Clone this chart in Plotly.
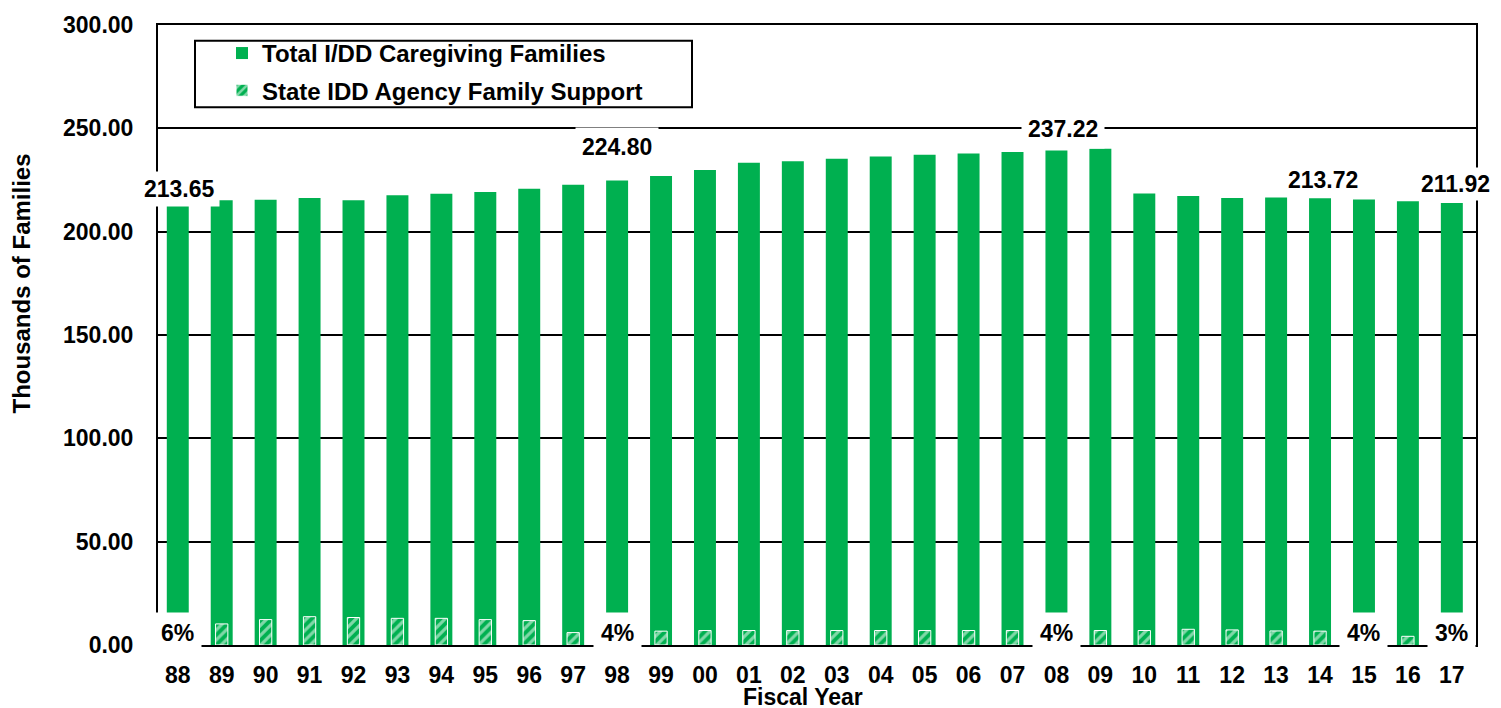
import plotly.graph_objects as go

# ---------------- data ----------------
years = ["88", "89", "90", "91", "92", "93", "94", "95", "96", "97", "98", "99",
         "00", "01", "02", "03", "04", "05", "06", "07", "08", "09",
         "10", "11", "12", "13", "14", "15", "16", "17"]

total_families = [215.0, 215.2, 215.5, 216.3, 215.2, 217.6, 218.4, 219.2, 220.8, 222.7, 224.8, 226.9,
                  229.8, 233.3, 234.1, 235.3, 236.4, 237.2, 237.8, 238.5, 239.3, 240.1,
                  218.5, 217.2, 216.3, 216.5, 216.2, 215.6, 214.7, 213.9]

family_support = [12.9, 10.2, 12.3, 13.7, 13.3, 12.9, 12.9, 12.3, 11.8, 6.0, 9.0, 6.7,
                  7.0, 7.0, 7.0, 7.0, 7.0, 7.0, 7.0, 7.0, 9.5, 7.0,
                  7.0, 7.6, 7.3, 6.8, 6.7, 8.6, 4.2, 6.4]

top_label_years = ["88", "98", "08", "14", "17"]
top_label_text = ["213.65", "224.80", "237.22", "213.72", "211.92"]

pct_label_years = ["88", "98", "08", "15", "17"]
pct_label_text = ["6%", "4%", "4%", "4%", "3%"]

y_ticks = [0, 50, 100, 150, 200, 250, 300]

# ---------------- style ----------------
GREEN = "#00B050"
FONT = "Liberation Sans, Arial, sans-serif"
W, H = 1501, 708
L, R, T, B = 158, 25, 19, 63
PW, PH = W - L - R, H - T - B


def px_to_paper_y(py):
    return (H - B - py) / PH


def px_to_paper_x(px):
    return (px - L) / PW


fig = go.Figure()
fig.add_trace(go.Bar(
    x=years, y=total_families, name="Total I/DD Caregiving Families",
    marker=dict(color=GREEN, line=dict(width=0)), width=0.5,
    legendgroup="a", hoverinfo="x+y",
))
fig.add_trace(go.Bar(
    x=years, y=family_support, name="State IDD Agency Family Support",
    marker=dict(color=GREEN, line=dict(color="white", width=1),
                pattern=dict(shape="/", fgcolor="white", size=7, solidity=0.45)),
    width=0.28, legendgroup="b", hoverinfo="x+y",
))

annotations = []
# top value labels (positions in pixels of the reference layout)
top_pos_py = [185, 142, 124, 176, 180]
top_shift_px = [2, 0, 7, 3, 4]
top_pad = [4, 6, 6, 3, 3]
for yr, txt, py, sx, pd in zip(top_label_years, top_label_text, top_pos_py, top_shift_px, top_pad):
    annotations.append(dict(
        x=years.index(yr), xref="x", y=px_to_paper_y(py), yref="paper", text=txt, showarrow=False,
        xshift=sx, font=dict(family=FONT, size=23, color="black", weight="bold"),
        bgcolor="white", borderpad=pd, xanchor="center", yanchor="middle",
    ))
# bottom percentage labels
for yr, txt in zip(pct_label_years, pct_label_text):
    annotations.append(dict(
        x=years.index(yr), xref="x", y=px_to_paper_y(633), yref="paper", text=txt, showarrow=False,
        font=dict(family=FONT, size=23, color="black", weight="bold"),
        bgcolor="white", borderpad=7, xanchor="center", yanchor="middle",
    ))
# axis titles
annotations.append(dict(
    x=px_to_paper_x(21), xref="paper", y=px_to_paper_y(280), yref="paper",
    text="Thousands of Families", textangle=-90, showarrow=False,
    font=dict(family=FONT, size=24, color="black", weight="bold"),
    xanchor="center", yanchor="middle",
))
annotations.append(dict(
    x=px_to_paper_x(803), xref="paper", y=px_to_paper_y(697), yref="paper",
    text="Fiscal Year", showarrow=False,
    font=dict(family=FONT, size=23, color="black", weight="bold"),
    xanchor="center", yanchor="middle",
))

shapes = [dict(
    type="rect", xref="paper", yref="paper",
    x0=px_to_paper_x(195), x1=px_to_paper_x(692),
    y0=px_to_paper_y(102), y1=px_to_paper_y(35),
    line=dict(color="black", width=2), fillcolor="rgba(0,0,0,0)", layer="above",
)]

fig.update_layout(
    width=W, height=H,
    margin=dict(l=L, r=R, t=T, b=B, pad=0),
    paper_bgcolor="white", plot_bgcolor="white",
    barmode="overlay",
    font=dict(family=FONT, size=23, color="black", weight="bold"),
    showlegend=True,
    legend=dict(
        x=px_to_paper_x(222), xanchor="left",
        y=px_to_paper_y(25), yanchor="top",
        bgcolor="rgba(0,0,0,0)", borderwidth=0,
        font=dict(family=FONT, size=24, color="black", weight="bold"),
        traceorder="grouped", tracegroupgap=3,
    ),
    annotations=annotations,
    shapes=shapes,
    xaxis=dict(
        type="category", range=[-0.45, 29.55],
        showline=True, linecolor="black", linewidth=2, mirror=True,
        showgrid=False, ticks="outside", ticklen=8, tickcolor="rgba(0,0,0,0)",
        tickfont=dict(family=FONT, size=23, color="black", weight="bold"),
        layer="above traces",
    ),
    yaxis=dict(
        range=[0, 300], tickmode="array", tickvals=y_ticks,
        tickformat=".2f",
        showline=True, linecolor="black", linewidth=2, mirror=True,
        showgrid=True, gridcolor="black", gridwidth=1.5, zeroline=False,
        ticks="outside", ticklen=18, tickcolor="rgba(0,0,0,0)",
        tickfont=dict(family=FONT, size=23, color="black", weight="bold"),
    ),
)

fig.write_html("out.html", config={"displayModeBar": False},
               post_script="document.body.style.margin='0';")
